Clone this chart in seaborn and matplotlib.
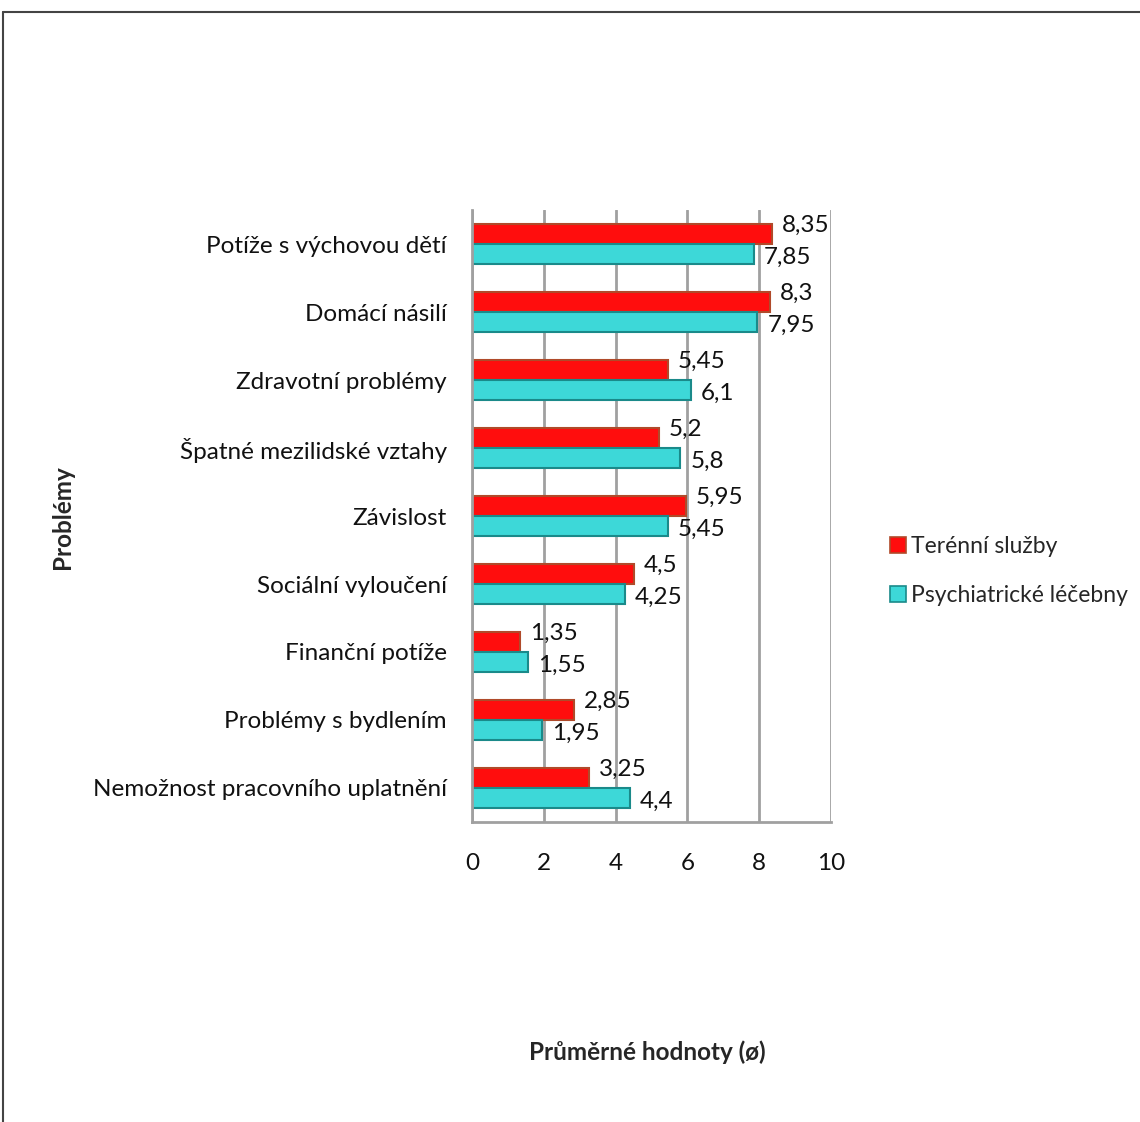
import matplotlib
matplotlib.use("Agg")
import matplotlib.pyplot as plt
from matplotlib.lines import Line2D
from matplotlib.patches import Patch
import seaborn as sns
import pandas as pd

categories = [
    "Potíže s výchovou dětí",
    "Domácí násilí",
    "Zdravotní problémy",
    "Špatné mezilidské vztahy",
    "Závislost",
    "Sociální vyloučení",
    "Finanční potíže",
    "Problémy s bydlením",
    "Nemožnost pracovního uplatnění",
]
terenni = [8.35, 8.3, 5.45, 5.2, 5.95, 4.5, 1.35, 2.85, 3.25]
lecebny = [7.85, 7.95, 6.1, 5.8, 5.45, 4.25, 1.55, 1.95, 4.4]
series = ["Terénní služby", "Psychiatrické léčebny"]
x_ticks = [0, 2, 4, 6, 8, 10]

face = {"Terénní služby": "#FF0D0D", "Psychiatrické léčebny": "#3DD8D8"}
edge = {"Terénní služby": "#B04A2A", "Psychiatrické léčebny": "#1A8A8A"}

df = pd.DataFrame({
    "Problém": categories * 2,
    "Hodnota": terenni + lecebny,
    "Skupina": [series[0]] * len(categories) + [series[1]] * len(categories),
})

sns.set_style("white")
plt.rcParams["font.family"] = ["Lato", "DejaVu Sans"]
FS = 17.5

fig = plt.figure(figsize=(11.4, 11.22), dpi=100)
ax = fig.add_axes([0.414, 0.2674, 0.315, 0.5454])

sns.barplot(data=df, y="Problém", x="Hodnota", hue="Skupina", order=categories,
            hue_order=series, palette=face, orient="h", width=0.6,
            saturation=1, legend=False, ax=ax, errorbar=None)

for cont, name in zip(ax.containers, series):
    for bar in cont:
        bar.set_edgecolor(edge[name])
        bar.set_linewidth(1.5)

# value labels next to each bar
for cont, name, vals in zip(ax.containers, series, [terenni, lecebny]):
    dy = -0.12 if name == series[0] else 0.05
    for bar, v in zip(cont, vals):
        yc = bar.get_y() + bar.get_height() / 2
        ax.text(v + 0.28, yc + dy, f"{v:g}".replace(".", ","), fontsize=FS,
                va="center", ha="left", color="#111111")

ax.set_xlim(0, 10)
ax.set_xticks(x_ticks)
ax.set_xticklabels([str(t) for t in x_ticks], fontsize=FS)
ax.tick_params(axis="y", labelsize=FS, length=0, pad=18, labelcolor="#111111")
ax.tick_params(axis="x", length=5, color="#A0A0A0", width=2, pad=17,
               labelcolor="#111111")
ax.xaxis.grid(True, color="#A0A0A0", linewidth=2)
ax.set_axisbelow(True)
for side in ["top", "right"]:
    ax.spines[side].set_visible(False)
for side in ["left", "bottom"]:
    ax.spines[side].set_color("#A0A0A0")
    ax.spines[side].set_linewidth(2)
ax.set_ylabel("")
ax.set_xlabel("")

fig.text(0.568, 0.062, "Průměrné hodnoty (ø)", fontsize=FS, fontweight="bold",
         ha="center", va="center")
fig.text(0.055, 0.539, "Problémy", fontsize=FS, fontweight="bold",
         rotation=90, ha="center", va="center")

handles = [Patch(facecolor=face[s], edgecolor=edge[s], linewidth=1.2) for s in series]
fig.legend(handles, series, loc="center left", bbox_to_anchor=(0.781, 0.491),
           frameon=False, fontsize=16.5, handlelength=0.7, handleheight=0.7,
           handletextpad=0.2, labelspacing=1.2, borderaxespad=0, borderpad=0)

# outer frame
fig.add_artist(Line2D([0.003, 1.0], [0.989, 0.989], color="#444444", lw=1.5))
fig.add_artist(Line2D([0.003, 0.003], [0.0, 0.989], color="#444444", lw=1.5))

fig.savefig("out.png", dpi=100, facecolor="white")
